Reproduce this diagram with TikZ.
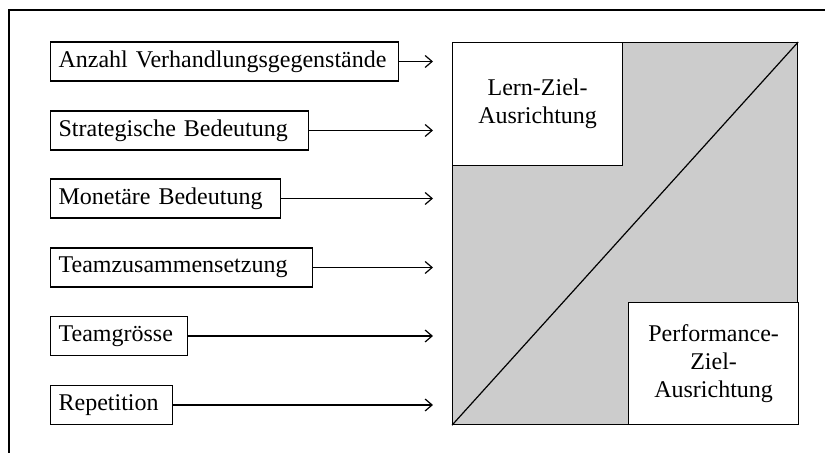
\documentclass[tikz,border=0pt]{standalone}
\usepackage{fontspec}
\setmainfont{Liberation Serif}
\usetikzlibrary{arrows.meta}

\begin{document}
\begin{tikzpicture}[x=0.5pt, y=-0.5pt, line width=0.6pt, font=\fontsize{12}{14}\selectfont,
  factor/.style={draw, anchor=west, inner xsep=4pt, inner ysep=0pt, minimum height=19.5pt, text width=#1, align=left},
  goal/.style={draw, fill=white, inner sep=0pt, minimum width=85pt, align=center},
  pfeil/.style={-{Straight Barb[length=3.5pt,width=6pt]}}]
\definecolor{mygray}{HTML}{CCCCCC}
\useasboundingbox (0,0) rectangle (825,453);
\draw (825,10) -- (9,10) -- (9,453);

\node[factor=166pt] (f1) at (50,61.5) {Anzahl Verhandlungsgegenstände};
\node[factor=121pt] (f2) at (50,130.5) {Strategische Bedeutung};
\node[factor=107pt] (f3) at (50,198.5) {Monetäre Bedeutung};
\node[factor=123pt] (f4) at (50,267.5) {Teamzusammensetzung};
\node[factor=60.5pt] (f5) at (50,336) {Teamgrösse};
\node[factor=53pt] (f6) at (50,405) {Repetition};

\coordinate (tip) at (433,0);
\draw[pfeil] (f1) -- (f1 -| tip);
\draw[pfeil] (f2) -- (f2 -| tip);
\draw[pfeil] (f3) -- (f3 -| tip);
\draw[pfeil] (f4) -- (f4 -| tip);
\draw[pfeil] (f5) -- (f5 -| tip);
\draw[pfeil] (f6) -- (f6 -| tip);

\node[draw, fill=mygray, inner sep=0pt, minimum width=172.5pt, minimum height=191pt, anchor=north west] (feld) at (452,42) {};
\draw (feld.south west) -- (feld.north east);
\node[goal, minimum height=61.5pt, anchor=north west] (lern) at (feld.north west) {Lern-Ziel-\\Ausrichtung};
\node[goal, minimum height=61pt, anchor=south east] (perf) at ([xshift=0.5pt]feld.south east) {Performance-\\Ziel-\\Ausrichtung};

\end{tikzpicture}
\end{document}
